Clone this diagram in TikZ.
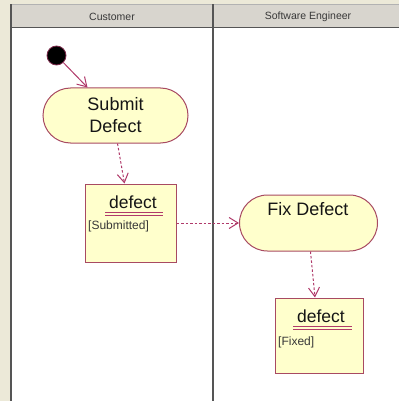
\documentclass[tikz,border=0pt]{standalone}
\usepackage{fontspec}
\setmainfont{Liberation Sans}
\usetikzlibrary{arrows.meta,shapes.misc}
\definecolor{outerbg}{HTML}{ECE9D8}
\definecolor{headbg}{HTML}{D8D5CE}
\definecolor{lanegray}{HTML}{555555}
\definecolor{umlred}{HTML}{B03A6A}
\definecolor{umlborder}{HTML}{A84A62}
\definecolor{umlfill}{HTML}{FFFFCC}
\definecolor{txt}{HTML}{151515}
\tikzset{
  action/.style={rounded rectangle, draw=umlborder, fill=umlfill, line width=1pt, inner sep=0pt, text=txt, align=center, font=\fontsize{18}{23}\selectfont},
  objbox/.style={rectangle, draw=umlborder, fill=umlfill, line width=1pt, inner sep=0pt},
  objname/.style={text=txt, font=\fontsize{17.5}{20}\selectfont, inner sep=0pt},
  objstate/.style={text=txt!85, font=\fontsize{12}{14}\selectfont, inner sep=0pt, anchor=west},
  flow/.style={draw=umlred, line width=1pt, -{Straight Barb[length=9pt,width=11pt]}},
  objflow/.style={flow, dash pattern=on 2.5pt off 2pt},
  lanehead/.style={text=txt!85, font=\fontsize{10.5}{12}\selectfont, inner sep=0pt},
  uline/.style={draw=umlred, line width=1pt}
}
\begin{document}
\begin{tikzpicture}[x=1pt,y=-1pt]
\useasboundingbox (0,0) rectangle (399,401);
% background
\fill[outerbg] (0,0) rectangle (399,401);
\fill[white] (11,27.5) rectangle (399,401);
\fill[headbg] (11,4.5) rectangle (399,27.5);
\draw[gray!60, line width=0.8pt] (11,4.5) -- (399,4.5);
\draw[lanegray, line width=1.5pt] (11,27.5) -- (399,27.5);
\draw[lanegray, line width=2pt] (11,4.5) -- (11,401);
\draw[lanegray, line width=1.5pt] (213,4.5) -- (213,401);
\node[lanehead] (h1) at (112,17) {Customer};
\node[lanehead] (h2) at (308,17) {Software Engineer};
% initial node
\node[circle, fill=black, draw=umlred!70!black, line width=0.8pt, minimum size=19pt, inner sep=0pt] (init) at (56.5,55.5) {};
% actions
\node[action, minimum width=145pt, minimum height=55pt] (submit) at (115.5,115.5) {Submit\\[-1pt]Defect};
\node[action, minimum width=138pt, minimum height=56pt] (fix) at (308.5,223) {};
\node[objname, font=\fontsize{18}{20}\selectfont] (fixlbl) at (308,209) {Fix Defect};
% object 1
\node[objbox, minimum width=91pt, minimum height=78pt] (obj1) at (130.5,223) {};
\node[objname] (o1name) at (133,202) {defect};
\draw[uline] (105,212) -- (163,212);
\draw[uline] (105,215) -- (163,215);
\node[objstate] (o1state) at (88,226) {[Submitted]};
% object 2
\node[objbox, minimum width=88pt, minimum height=75pt] (obj2) at (319,335.5) {};
\node[objname] (o2name) at (321,316) {defect};
\draw[uline] (293,326) -- (352,326);
\draw[uline] (293,329) -- (352,329);
\node[objstate] (o2state) at (278,342) {[Fixed]};
% flows
\draw[flow] (init) -- ([xshift=-28pt]submit.north);
\draw[objflow] ([xshift=2pt]submit.south) -- ([xshift=-6pt]obj1.north);
\draw[objflow] (obj1.east) -- (fix.west);
\draw[objflow] ([xshift=2pt]fix.south) -- ([xshift=-4pt]obj2.north);
\end{tikzpicture}
\end{document}
